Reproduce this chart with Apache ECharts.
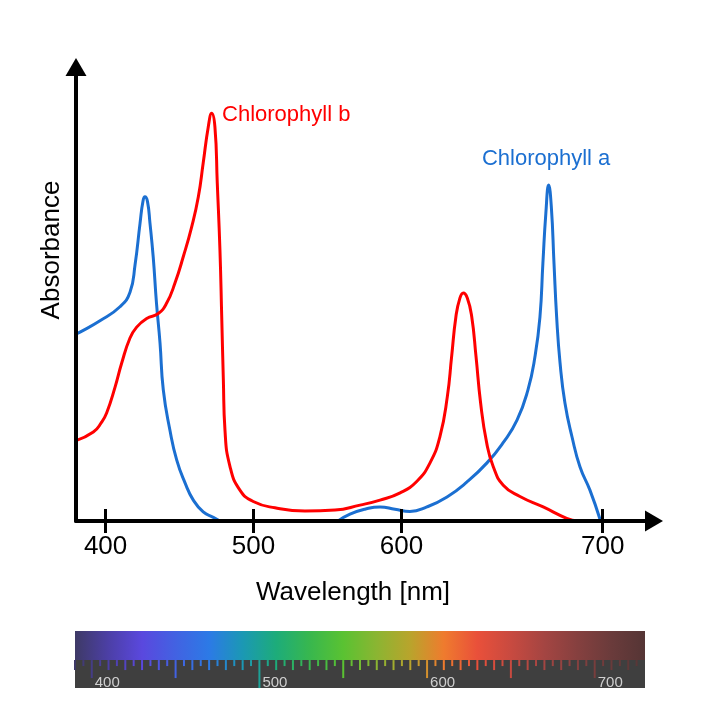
<!DOCTYPE html>
<html>
<head>
<meta charset="utf-8">
<script src="https://cdn.jsdelivr.net/npm/echarts@6/dist/echarts.min.js"></script>
<style>
  html, body { margin:0; padding:0; background:#fff; }
  #chart { width:717px; height:701px; }
</style>
</head>
<body>
<div id="chart"></div>
<script type="text/javascript">
// x positions on the drawn axis; the "700" tick of the picture sits further right
var xTickPos = [400, 500, 600, 736];
var xTickLabels = ['400', '500', '600', '700'];

// Chlorophyll a (blue), [wavelength, absorbance]
var chlA = [
  [380.0,41.2],[382.7,41.6],[396.2,44.1],[409.7,47.2],[416.5,50.4],[419.9,56.4],
  [423.3,65.6],[425.3,70.5],[426.6,71.4],[428.3,70.4],[430.0,65.6],[432.2,58.1],
  [434.4,48.0],[436.8,39.2],[439.0,28.9],[443.5,20.0],[448.1,13.4],[453.7,8.4],
  [459.3,4.6],[466.0,2.0],[472.8,0.8],[477.3,0],
  [null,null],
  [557.1,0],[565.2,1.5],[575.3,2.6],[585.5,3.1],[595.6,2.6],[605.7,2.1],
  [617.2,3.1],[630.8,5.3],[644.3,8.6],[657.8,12.8],[668.6,17.2],[678.1,22.2],
  [685.5,28.9],[690.2,36.1],[693.6,44.9],[695.6,56.8],[697.6,67.8],[699.5,74.0],
  [701.3,69.2],[703.1,56.8],[704.9,44.9],[707.2,34.8],[710.5,26.0],[715.3,18.5],
  [720.7,11.9],[727.4,6.8],[734.2,0.4]
];

// Chlorophyll b (red)
var chlB = [
  [380.0,17.7],[391.7,19.6],[397.0,21.6],[400.7,23.8],[406.4,29.5],
  [410.9,34.8],[416.5,40.3],[421.0,42.7],[427.8,44.6],[435.6,45.7],[441.3,48.0],
  [446.9,52.4],[452.5,58.2],[458.2,64.8],[462.7,71.4],[466.0,78.9],[469.4,86.8],
  [471.7,89.8],[473.9,86.8],[475.5,74.4],[477.3,59.7],[478.5,45.0],[479.6,31.1],
  [480.7,20.0],[484.1,12.0],[490.8,6.8],[499.8,4.3],[514.5,2.9],[534.8,2.2],
  [555.1,2.4],[572.0,3.5],[585.5,4.6],[599.1,6.2],[610.3,8.7],[619.3,12.8],
  [626.0,18.6],[631.0,27.4],[633.9,36.2],[636.8,45.0],[639.5,49.1],[641.8,50.2],
  [644.5,49.1],[647.5,45.0],[650.4,36.2],[653.5,26.0],[657.6,17.2],[662.0,12.0],
  [668.8,7.9],[680.1,5.4],[695.8,3.1],[711.7,0.6],[719.3,0]
];

// spectrum strip: colours every 20 nm from 390 to 730
var spectrumColors = [
  '#3e3a66','#4c3fa6','#5a48de','#4262e2','#2c7ae6','#1b98b4','#1dac7a','#38b74e',
  '#5ac232','#8bb532','#b9a42c','#ef7b2e','#e9503a','#c84a40','#a44542','#85403f',
  '#6a3b3b','#553535'
];
var rulerLabels = [400, 500, 600, 700];
var rulerTicks = [];
for (var w = 390; w <= 725; w += 5) rulerTicks.push(w);

function tickLen(w) {
  if (w === 500) return 28;
  if (w % 50 === 0) return 18;
  if (w % 10 === 0) return 10;
  return 6;
}

var font = 'Liberation Sans, Arial, Helvetica, sans-serif';
var bandBottom = 0.49;

var myChart = echarts.init(document.getElementById('chart'));
var option = {
  backgroundColor: '#fff',
  animation: false,
  textStyle: { fontFamily: font },
  grid: [
    { left: 76, right: 63, top: 67, bottom: 180, outerBoundsMode: 'none' },
    { left: 75, right: 72, top: 631, height: 57, show: true, backgroundColor: '#3f3f3f', borderWidth: 0, outerBoundsMode: 'none' }
  ],
  xAxis: [
    {
      type: 'value', gridIndex: 0, min: 380, max: 770.7, position: 'bottom', z: 5,
      name: 'Wavelength [nm]', nameLocation: 'middle', nameGap: 59,
      nameTextStyle: { fontSize: 26, color: '#000', fontFamily: font, padding: [0, 24, 0, 0] },
      axisLine: { show: true, symbol: ['none', 'triangle'], symbolSize: [21, 18], lineStyle: { color: '#000', width: 4 } },
      axisTick: { show: true, customValues: xTickPos, inside: false, length: 12, lineStyle: { color: '#000', width: 3 } },
      axisLabel: {
        show: true, customValues: xTickPos, margin: 13, fontSize: 26, color: '#000', fontFamily: font,
        formatter: function (v) { return xTickLabels[xTickPos.indexOf(v)]; }
      },
      splitLine: { show: false }
    },
    {
      type: 'value', gridIndex: 0, min: 380, max: 770.7, position: 'bottom', z: 5,
      axisLine: { show: false },
      axisTick: { show: true, customValues: xTickPos, inside: true, length: 12, lineStyle: { color: '#000', width: 3 } },
      axisLabel: { show: false },
      splitLine: { show: false }
    },
    {
      type: 'value', gridIndex: 1, min: 390, max: 730, position: 'bottom',
      axisLine: { show: false },
      axisTick: { show: false },
      axisLabel: {
        show: true, customValues: rulerLabels, inside: true, margin: -2, align: 'left',
        padding: [0, 0, 0, 3], fontSize: 15, color: '#cfcfcf', fontFamily: font
      },
      splitLine: { show: false }
    }
  ],
  yAxis: [
    {
      type: 'value', gridIndex: 0, min: 0, max: 100, z: 5,
      name: 'Absorbance', nameLocation: 'middle', nameGap: 11,
      nameTextStyle: { fontSize: 26, color: '#000', fontFamily: font, padding: [0, 0, 0, 88] },
      axisLine: { show: true, symbol: ['none', 'triangle'], symbolSize: [21, 18], lineStyle: { color: '#000', width: 4 } },
      axisTick: { show: false },
      axisLabel: { show: false },
      splitLine: { show: false }
    },
    { type: 'value', gridIndex: 1, min: 0, max: 1, show: false }
  ],
  visualMap: {
    type: 'continuous', show: false, seriesIndex: 3, dimension: 0,
    min: 390, max: 730, inRange: { color: spectrumColors }
  },
  series: [
    {
      name: 'Chlorophyll a', type: 'line', xAxisIndex: 0, yAxisIndex: 0,
      data: chlA, showSymbol: false, symbol: 'none', smooth: 0.5, connectNulls: false,
      lineStyle: { color: '#1b6fd1', width: 3 },
      markPoint: {
        symbol: 'circle', symbolSize: 0,
        label: { show: true, position: 'inside', align: 'left', verticalAlign: 'middle', color: '#1b6fd1', fontSize: 22, fontFamily: font, formatter: 'Chlorophyll a' },
        data: [{ coord: [654.4, 79.8] }]
      }
    },
    {
      name: 'Chlorophyll b', type: 'line', xAxisIndex: 0, yAxisIndex: 0,
      data: chlB, showSymbol: false, symbol: 'none', smooth: 0.5,
      lineStyle: { color: '#ff0000', width: 3 },
      markPoint: {
        symbol: 'circle', symbolSize: 0,
        label: { show: true, position: 'inside', align: 'left', verticalAlign: 'middle', color: '#ff0000', fontSize: 22, fontFamily: font, formatter: 'Chlorophyll b' },
        data: [{ coord: [478.7, 89.4] }]
      }
    },
    {
      name: 'band', type: 'custom', xAxisIndex: 2, yAxisIndex: 1, silent: true,
      data: [[390, 1]],
      renderItem: function (params, api) {
        var p0 = api.coord([390, 1]);
        var p1 = api.coord([730, bandBottom]);
        var stops = spectrumColors.map(function (c, i) {
          return { offset: i / (spectrumColors.length - 1), color: c };
        });
        return {
          type: 'rect',
          shape: { x: p0[0], y: p0[1], width: p1[0] - p0[0], height: p1[1] - p0[1] },
          style: { fill: new echarts.graphic.LinearGradient(0, 0, 1, 0, stops) }
        };
      }
    },
    {
      name: 'ruler', type: 'custom', xAxisIndex: 2, yAxisIndex: 1, silent: true,
      data: rulerTicks.map(function (w) { return [w, tickLen(w)]; }),
      renderItem: function (params, api) {
        var p = api.coord([api.value(0), bandBottom]);
        return {
          type: 'line',
          shape: { x1: p[0], y1: p[1], x2: p[0], y2: p[1] + api.value(1) },
          style: { stroke: api.visual('color'), lineWidth: 2 }
        };
      }
    }
  ]
};
myChart.setOption(option);
</script>
</body>
</html>
